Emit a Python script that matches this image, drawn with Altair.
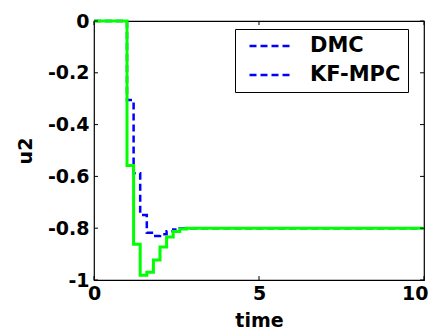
import altair as alt
import pandas as pd

# ---- data ----
time_pts = [0, 1.0, 1.2, 1.4, 1.6, 1.8, 2.0, 2.2, 2.4, 2.6, 2.8, 10]
u2_dmc = [0, -0.305, -0.588, -0.749, -0.818, -0.830, -0.823, -0.812, -0.805, -0.801, -0.800, -0.800]
u2_kfmpc = [0, -0.558, -0.862, -0.982, -0.970, -0.923, -0.873, -0.834, -0.813, -0.803, -0.800, -0.800]
series_names = ["DMC", "KF-MPC"]
x_ticks = [0, 5, 10]
y_ticks = [-1, -0.8, -0.6, -0.4, -0.2, 0]

df_dmc = pd.DataFrame({"time": time_pts, "u2": u2_dmc, "series": "DMC"})
df_kf = pd.DataFrame({"time": time_pts, "u2": u2_kfmpc, "series": "KF-MPC"})
df_xt = pd.DataFrame({"time": x_ticks})
df_yt = pd.DataFrame({"u2": y_ticks})

W, H = 330, 259
FONT = "DejaVu Sans"

xscale = alt.Scale(domain=[0, 10], nice=False, zero=False)
yscale = alt.Scale(domain=[-1, 0], nice=False, zero=False)

xaxis = alt.Axis(values=x_ticks, title="time", labelExpr="toString(datum.value)",
                 ticks=False, domain=False, grid=False,
                 labelFont=FONT, labelFontSize=19, labelFontWeight="bold", labelColor="black",
                 labelPadding=4, titleFont=FONT, titleFontSize=19, titleFontWeight="bold",
                 titleColor="black", titlePadding=8, labelFlush=False,
                 labelAlign={"condition": {"test": "datum.value == 10", "value": "right"},
                             "value": "center"},
                 labelOffset={"condition": {"test": "datum.value == 10", "value": 4},
                              "value": 0})
yaxis = alt.Axis(values=y_ticks, title="u2", labelExpr="toString(datum.value)",
                 ticks=False, domain=False, grid=False,
                 labelFont=FONT, labelFontSize=19, labelFontWeight="bold", labelColor="black",
                 labelPadding=5, titleFont=FONT, titleFontSize=19, titleFontWeight="bold",
                 titleColor="black", titlePadding=12, labelFlush=False)

X = alt.X("time:Q", scale=xscale, axis=xaxis)
Y = alt.Y("u2:Q", scale=yscale, axis=yaxis)

legend = alt.Legend(title=None, orient="none", legendX=141, legendY=8,
                    symbolType="stroke", symbolDash=[7, 4], symbolStrokeWidth=2.5,
                    symbolSize=1600, symbolOffset=6, clipHeight=20,
                    labelFont=FONT, labelFontSize=21,
                    labelFontWeight="bold", labelColor="black", labelOffset=19,
                    strokeColor="black", fillColor="white", padding=7, rowPadding=8)

dmc_line = alt.Chart(df_dmc).mark_line(interpolate="step-after", strokeWidth=2.5,
                                       strokeDash=[7, 4]).encode(
    x=X, y=Y,
    color=alt.Color("series:N", scale=alt.Scale(domain=series_names, range=["#0000ff", "#0000ff"]),
                    legend=legend),
)
kf_line = alt.Chart(df_kf).mark_line(interpolate="step-after", strokeWidth=3,
                                     color="#00ff00").encode(x=X, y=Y)

tick_len = 4
xt_bottom = alt.Chart(df_xt).mark_rule(color="black").encode(
    x=X, y=alt.value(H), y2=alt.value(H - tick_len))
xt_top = alt.Chart(df_xt).mark_rule(color="black").encode(
    x=X, y=alt.value(0), y2=alt.value(tick_len))
yt_left = alt.Chart(df_yt).mark_rule(color="black").encode(
    y=Y, x=alt.value(0), x2=alt.value(tick_len))
yt_right = alt.Chart(df_yt).mark_rule(color="black").encode(
    y=Y, x=alt.value(W), x2=alt.value(W - tick_len))

chart = alt.layer(dmc_line, kf_line, xt_bottom, xt_top, yt_left, yt_right).properties(
    width=W, height=H,
    autosize=alt.AutoSizeParams(type="none"),
    padding={"left": 86, "top": 13, "right": 4, "bottom": 52},
    background="white",
).configure_view(stroke="black", strokeWidth=1.2)

chart.save("out.html", embed_options={"renderer": "svg", "actions": False})
